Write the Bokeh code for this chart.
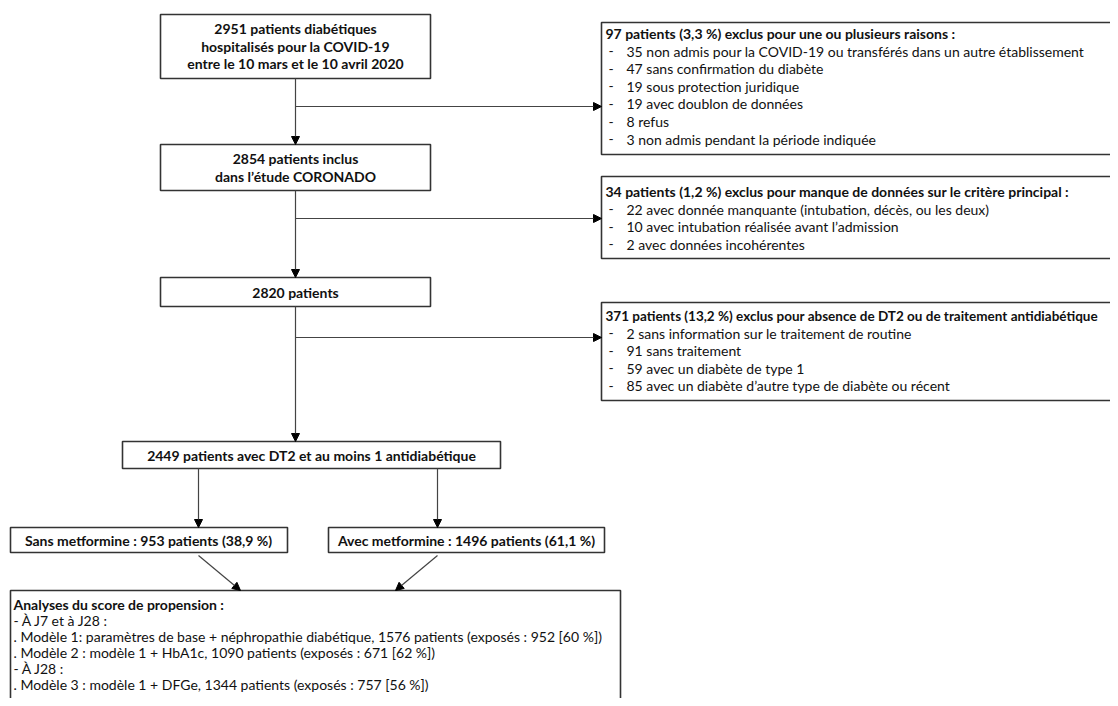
from bokeh.plotting import figure
from bokeh.models import Range1d, Arrow, NormalHead, ColumnDataSource
from bokeh.core.properties import value
from bokeh.embed import file_html
from bokeh.resources import INLINE

FONT = "Lato"

# texts of the flowchart
box1_lines = ["2951 patients diabétiques", "hospitalisés pour la COVID-19", "entre le 10 mars et le 10 avril 2020"]
box2_lines = ["2854 patients inclus", "dans l\u2019étude CORONADO"]
box3_lines = ["2820 patients"]
box4_lines = ["2449 patients avec DT2 et au moins 1 antidiabétique"]
sans_label = "Sans metformine : 953 patients (38,9 %)"
avec_label = "Avec metformine : 1496 patients (61,1 %)"

excl1_head = "97 patients (3,3 %) exclus pour une ou plusieurs raisons :"
excl1_items = ["35 non admis pour la COVID-19 ou transférés dans un autre établissement",
               "47 sans confirmation du diabète",
               "19 sous protection juridique",
               "19 avec doublon de données",
               "8 refus",
               "3 non admis pendant la période indiquée"]
excl2_head = "34 patients (1,2 %) exclus pour manque de données sur le critère principal :"
excl2_items = ["22 avec donnée manquante (intubation, décès, ou les deux)",
               "10 avec intubation réalisée avant l\u2019admission",
               "2 avec données incohérentes"]
excl3_head = "371 patients (13,2 %) exclus pour absence de DT2 ou de traitement antidiabétique"
excl3_items = ["2 sans information sur le traitement de routine",
               "91 sans traitement",
               "59 avec un diabète de type 1",
               "85 avec un diabète d\u2019autre type de diabète ou récent"]
ps_head = "Analyses du score de propension :"
ps_lines = ["- À J7 et à J28 :",
            " . Modèle 1: paramètres de base + néphropathie diabétique, 1576 patients (exposés : 952 [60 %])",
            " . Modèle 2 : modèle 1 + HbA1c, 1090 patients (exposés : 671 [62 %])",
            "- À J28 :",
            " . Modèle 3 : modèle 1 + DFGe, 1344 patients (exposés : 757 [56 %])"]

p = figure(width=1110, height=698, output_backend="svg", toolbar_location=None,
           x_range=Range1d(0, 1110), y_range=Range1d(698, 0), min_border=0)
p.axis.visible = False
p.grid.visible = False
p.outline_line_color = None

# boxes: left, right, top, bottom
boxes = dict(left=[160, 160, 160, 122, 10, 328, 10, 601, 601, 601],
             right=[430, 430, 430, 500, 287, 604, 620, 1130, 1130, 1130],
             top=[14, 144, 277, 441, 527, 527, 590, 22, 176, 302],
             bottom=[78, 190, 306, 468, 552, 552, 712, 154, 258, 400])
p.quad(source=ColumnDataSource(boxes), left="left", right="right", top="top", bottom="bottom",
       fill_color="white", line_color="#333333", line_width=1.6)

def center_text(lines, x, ys):
    p.text(x=[x] * len(lines), y=ys, text=lines, text_font=value(FONT), text_font_style="bold",
           text_font_size="14px", text_align="center", text_baseline="middle", text_color="#111111")

center_text(box1_lines, 295, [28, 46, 63])
center_text(box2_lines, 295, [158, 176])
center_text(box3_lines, 295, [292])
center_text(box4_lines, 311, [455])
center_text([sans_label], 148, [540])
center_text([avec_label], 466, [540])

def excl_box(head, items, y0, head_size="14px"):
    ys = [y0 + 17.6 * (i + 1) for i in range(len(items))]
    p.text(x=[605], y=[y0], text=[head], text_font=value(FONT), text_font_style="bold",
           text_font_size=head_size, text_baseline="middle", text_color="#111111")
    p.text(x=[608] * len(items), y=ys, text=["-"] * len(items), text_font=value(FONT),
           text_font_size="14px", text_baseline="middle", text_color="#111111")
    p.text(x=[626] * len(items), y=ys, text=items, text_font=value(FONT),
           text_font_size="14px", text_baseline="middle", text_color="#111111")

excl_box(excl1_head, excl1_items, 33)
excl_box(excl2_head, excl2_items, 191)
excl_box(excl3_head, excl3_items, 315, head_size="13.5px")

p.text(x=[13], y=[604], text=[ps_head], text_font=value(FONT), text_font_style="bold",
       text_font_size="14px", text_baseline="middle", text_color="#111111")
p.text(x=[13] * len(ps_lines), y=[620 + 16 * i for i in range(len(ps_lines))], text=ps_lines,
       text_font=value(FONT), text_font_size="14px", text_baseline="middle", text_color="#111111")

# connectors
arrows = dict(x0=[295, 295, 295, 295, 295, 295, 198, 437, 198, 437],
              y0=[78, 106, 190, 218, 306, 337, 468, 468, 555, 555],
              x1=[295, 601, 295, 601, 295, 601, 198, 437, 240, 395],
              y1=[144, 106, 277, 218, 441, 337, 527, 527, 590, 590])
p.add_layout(Arrow(end=NormalHead(size=8, fill_color="black", line_color="black"),
                   source=ColumnDataSource(arrows), x_start="x0", y_start="y0", x_end="x1", y_end="y1",
                   line_color="#444444", line_width=1.2))

open("out.html", "w").write(file_html(p, INLINE))
